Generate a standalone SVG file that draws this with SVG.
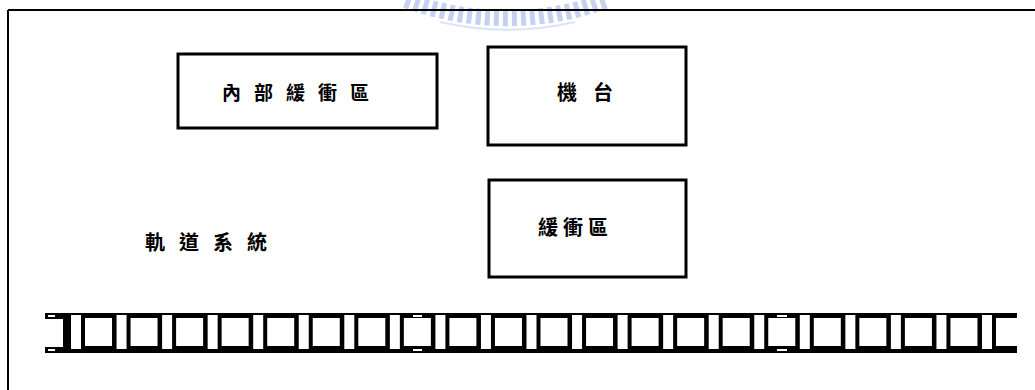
<svg xmlns="http://www.w3.org/2000/svg" xmlns:xlink="http://www.w3.org/1999/xlink" width="1035" height="390" viewBox="0 0 1035 390">
  <style>
    .box { fill: #ffffff; stroke: #000000; stroke-width: 3; }
    .lbl { font-family: "Noto Sans CJK TC", "Noto Sans CJK SC", sans-serif; font-weight: 700; fill: #000000; }
    .frame { stroke: #000000; stroke-width: 2; fill: none; }
    .wm { fill: none; stroke: #b9c6ef; }
    .hole { fill: #ffffff; }
  </style>
  <defs>
    <g id="unit">
      <rect class="hole" x="0" y="315" width="10" height="34"/>
      <rect class="hole" x="14" y="318" width="27" height="28"/>
    </g>
    <clipPath id="trackClip">
      <rect x="40" y="300" width="977" height="60"/>
    </clipPath>
  </defs>
  <rect x="0" y="0" width="1035" height="390" fill="#ffffff"/>

  <!-- watermark -->
  <g id="watermark" opacity="0.8">
    <path class="wm" d="M406,0 A290,290 0 0 0 608,0" stroke-width="16" stroke-dasharray="5 4"/>
    <path class="wm" d="M440,22 A300,300 0 0 0 575,22" stroke-width="2" opacity="0.6"/>
  </g>

  <!-- outer frame -->
  <g id="frame">
    <line class="frame" x1="8" y1="10" x2="1035" y2="10"/>
    <line class="frame" x1="8" y1="10" x2="8" y2="390"/>
  </g>

  <g id="internal-buffer">
    <rect class="box" x="178" y="54" width="259" height="74"/>
    <text class="lbl" x="222" y="100" font-size="19" letter-spacing="13">內部緩衝區</text>
  </g>

  <g id="machine">
    <rect class="box" x="488" y="47" width="198" height="98"/>
    <text class="lbl" x="557" y="100" font-size="20" letter-spacing="16">機台</text>
  </g>

  <g id="buffer">
    <rect class="box" x="489" y="180" width="197" height="97"/>
    <text class="lbl" x="538" y="235" font-size="20" letter-spacing="5">緩衝區</text>
  </g>

  <g id="track-label">
    <text class="lbl" x="145" y="250" font-size="20" letter-spacing="14">軌道系統</text>
  </g>

  <g id="track" clip-path="url(#trackClip)">
    <rect x="45" y="313" width="972" height="40" fill="#000000"/>
    <rect class="hole" x="45" y="319" width="18" height="28"/>
    <rect class="hole" x="48" y="315" width="7" height="2"/>
    <rect class="hole" x="48" y="349" width="7" height="2"/>
    <rect class="hole" x="413" y="315" width="9" height="2"/>
    <rect class="hole" x="413" y="349" width="9" height="2"/>
    <rect class="hole" x="777" y="315" width="10" height="2"/>
    <rect class="hole" x="777" y="349" width="10" height="2"/>
    <use xlink:href="#unit" x="71"/>
    <use xlink:href="#unit" x="116.55"/>
    <use xlink:href="#unit" x="162.1"/>
    <use xlink:href="#unit" x="207.65"/>
    <use xlink:href="#unit" x="253.2"/>
    <use xlink:href="#unit" x="298.75"/>
    <use xlink:href="#unit" x="344.3"/>
    <use xlink:href="#unit" x="389.85"/>
    <use xlink:href="#unit" x="435.4"/>
    <use xlink:href="#unit" x="480.95"/>
    <use xlink:href="#unit" x="526.5"/>
    <use xlink:href="#unit" x="572.05"/>
    <use xlink:href="#unit" x="617.6"/>
    <use xlink:href="#unit" x="663.15"/>
    <use xlink:href="#unit" x="708.7"/>
    <use xlink:href="#unit" x="754.25"/>
    <use xlink:href="#unit" x="799.8"/>
    <use xlink:href="#unit" x="845.35"/>
    <use xlink:href="#unit" x="890.9"/>
    <use xlink:href="#unit" x="936.45"/>
    <use xlink:href="#unit" x="982"/>
  </g>
</svg>
